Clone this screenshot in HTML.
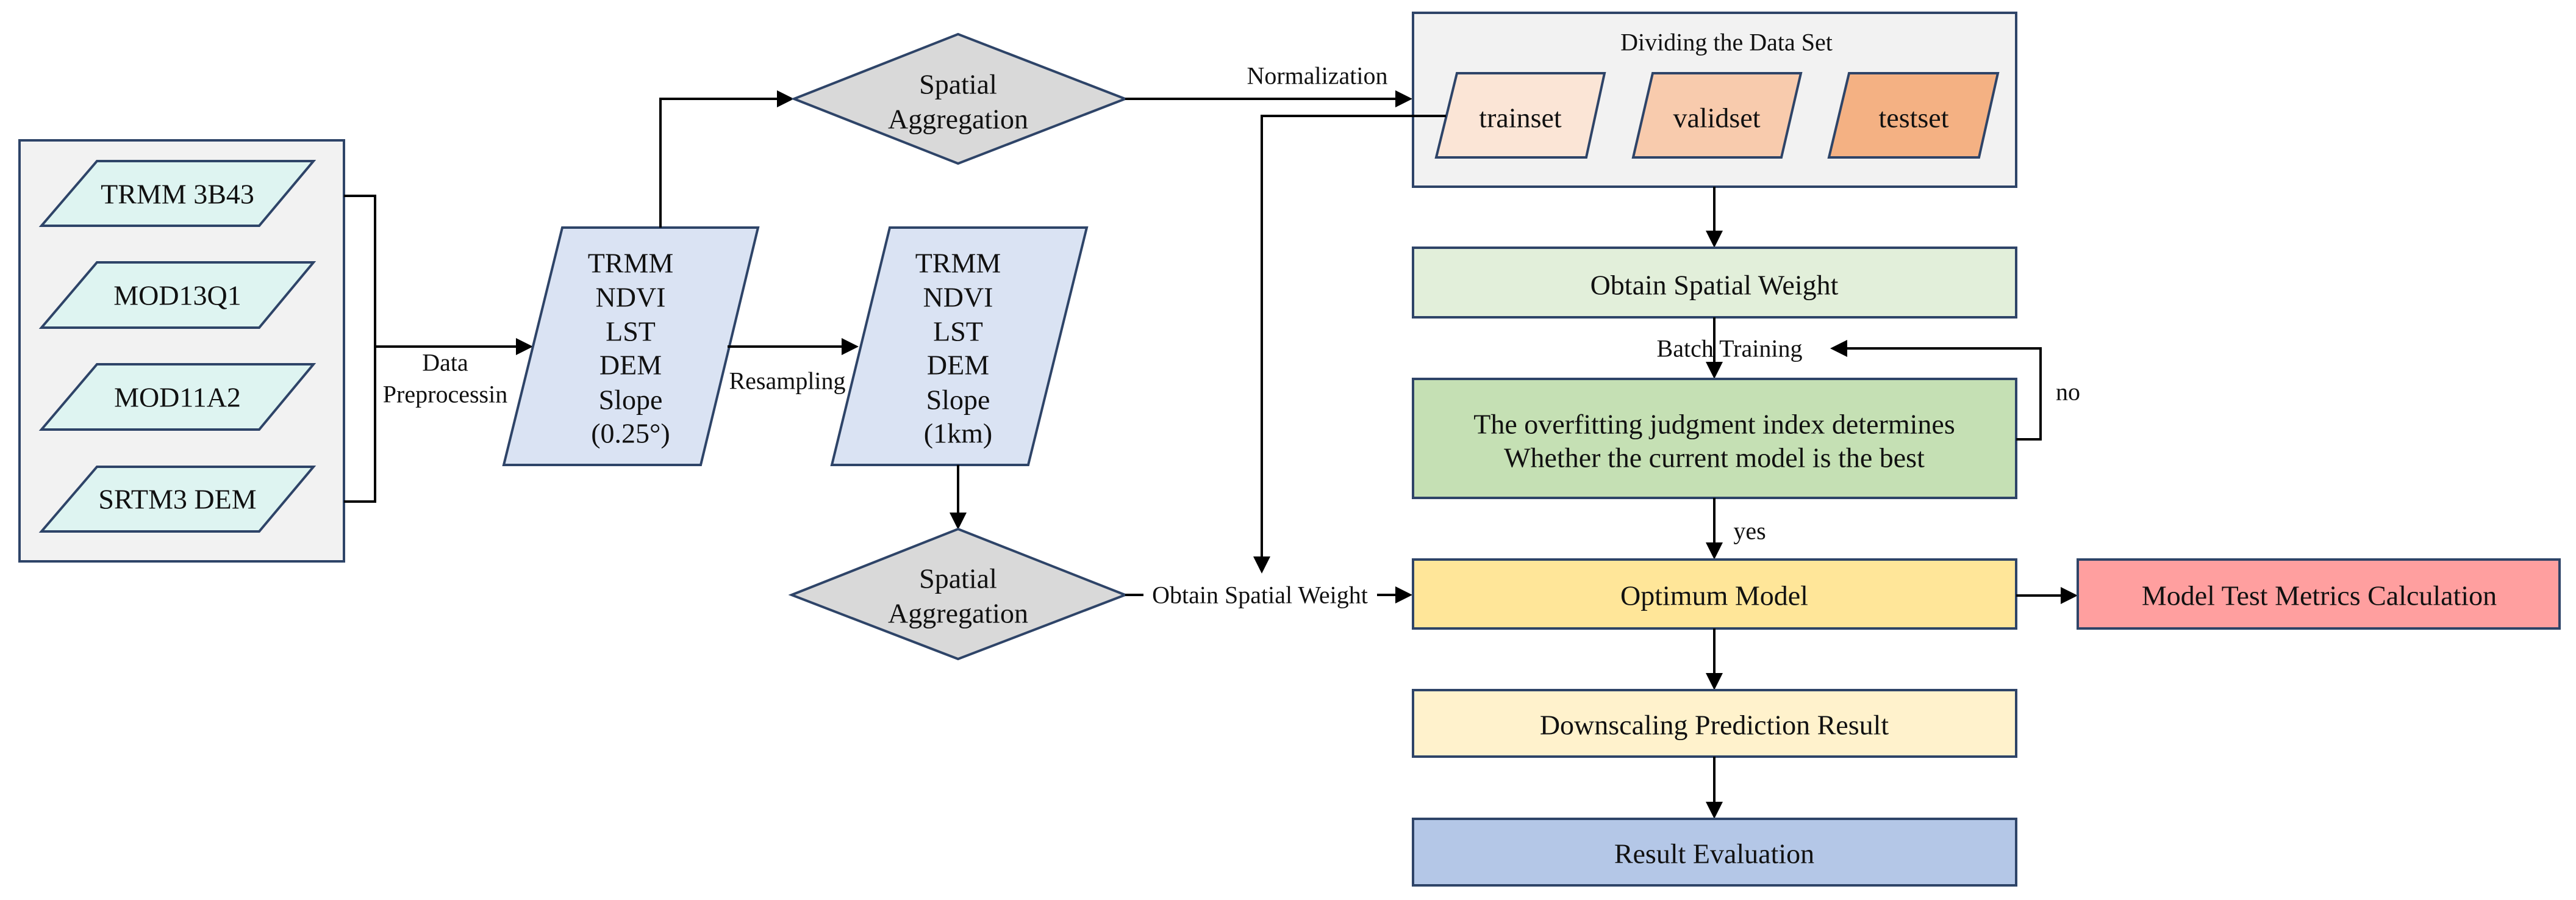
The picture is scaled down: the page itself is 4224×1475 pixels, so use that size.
<!DOCTYPE html>
<html><head><meta charset="utf-8"><style>
html,body{margin:0;padding:0;background:#fff;}
svg{display:block;}
svg text{font-family:"Liberation Serif","Times New Roman",serif;fill:#111;}
.b{font-size:46px;text-anchor:middle;dominant-baseline:central;}
.s{font-size:40px;text-anchor:middle;dominant-baseline:central;}
.bx{stroke:#2e4468;stroke-width:4;}
.ln{stroke:#000;stroke-width:4;fill:none;}
</style></head><body>
<svg width="4224" height="1475" viewBox="0 0 4224 1475" xmlns="http://www.w3.org/2000/svg" font-family="Liberation Serif, serif">
<defs><marker id="a" markerWidth="7" markerHeight="7" refX="6" refY="3.5" orient="auto" markerUnits="strokeWidth"><path d="M0,0 L7,3.5 L0,7 Z" fill="#000"/></marker></defs>

<!-- left panel -->
<rect x="32" y="230" width="532" height="690" fill="#f2f2f2" class="bx"/>
<polygon points="159,264 514,264 425,370 68,370" fill="#def4f1" class="bx"/>
<text x="291" y="318" class="b">TRMM 3B43</text>
<polygon points="159,430 514,430 425,537 68,537" fill="#def4f1" class="bx"/>
<text x="291" y="484" class="b">MOD13Q1</text>
<polygon points="159,597 514,597 425,704 68,704" fill="#def4f1" class="bx"/>
<text x="291" y="651" class="b">MOD11A2</text>
<polygon points="159,765 514,765 425,871 68,871" fill="#def4f1" class="bx"/>
<text x="291" y="818" class="b">SRTM3 DEM</text>

<path d="M564,321 H615 V822 H564" class="ln"/>
<line x1="615" y1="568" x2="870" y2="568" class="ln" marker-end="url(#a)"/>
<text x="730" y="594" class="s">Data</text>
<text x="730" y="646" class="s">Preprocessin</text>

<!-- param1 -->
<polygon points="922,373 1243,373 1149,762 826,762" fill="#dae3f3" class="bx"/>
<text x="1034" y="431" class="b">TRMM</text>
<text x="1034" y="487" class="b">NDVI</text>
<text x="1034" y="543" class="b">LST</text>
<text x="1034" y="598" class="b">DEM</text>
<text x="1034" y="655" class="b">Slope</text>
<text x="1034" y="710" class="b">(0.25°)</text>

<line x1="1193" y1="568" x2="1404" y2="568" class="ln" marker-end="url(#a)"/>
<text x="1291" y="624" class="s">Resampling</text>

<!-- param2 -->
<polygon points="1459,373 1782,373 1686,762 1364,762" fill="#dae3f3" class="bx"/>
<text x="1571" y="431" class="b">TRMM</text>
<text x="1571" y="487" class="b">NDVI</text>
<text x="1571" y="543" class="b">LST</text>
<text x="1571" y="598" class="b">DEM</text>
<text x="1571" y="655" class="b">Slope</text>
<text x="1571" y="710" class="b">(1km)</text>

<!-- diamond top -->
<path d="M1083,373 V162 H1298" class="ln" marker-end="url(#a)"/>
<polygon points="1302,162 1571,56 1845,162 1571,268" fill="#d9d9d9" class="bx"/>
<text x="1571" y="138" class="b">Spatial</text>
<text x="1571" y="195" class="b">Aggregation</text>
<line x1="1845" y1="162" x2="2312" y2="162" class="ln" marker-end="url(#a)"/>
<text x="2160" y="124" class="s">Normalization</text>

<!-- diamond bottom -->
<line x1="1571" y1="762" x2="1571" y2="864" class="ln" marker-end="url(#a)"/>
<polygon points="1298,975 1571,867 1845,975 1571,1080" fill="#d9d9d9" class="bx"/>
<text x="1571" y="948" class="b">Spatial</text>
<text x="1571" y="1005" class="b">Aggregation</text>
<line x1="1845" y1="975" x2="1875" y2="975" class="ln"/>
<text x="2066" y="975" class="s">Obtain Spatial Weight</text>
<line x1="2258" y1="975" x2="2312" y2="975" class="ln" marker-end="url(#a)"/>

<!-- dividing panel -->
<rect x="2317" y="21" width="989" height="285" fill="#f2f2f2" class="bx"/>
<text x="2831" y="69" class="s">Dividing the Data Set</text>
<polygon points="2389,120 2631,120 2601,258 2355,258" fill="#fbe5d6" class="bx"/>
<text x="2493" y="193" class="b">trainset</text>
<polygon points="2710,120 2953,120 2921,258 2678,258" fill="#f8cbad" class="bx"/>
<text x="2815" y="193" class="b">validset</text>
<polygon points="3032,120 3276,120 3245,258 2999,258" fill="#f4b183" class="bx"/>
<text x="3138" y="193" class="b">testset</text>

<path d="M2371,190 H2069 V936" class="ln" marker-end="url(#a)"/>

<!-- column -->
<line x1="2811" y1="306" x2="2811" y2="402" class="ln" marker-end="url(#a)"/>
<rect x="2317" y="406" width="989" height="114" fill="#e2efda" class="bx"/>
<text x="2811" y="467" class="b">Obtain Spatial Weight</text>
<line x1="2811" y1="520" x2="2811" y2="617" class="ln" marker-end="url(#a)"/>
<text x="2836" y="571" class="s">Batch Training</text>
<rect x="2317" y="621" width="989" height="195" fill="#c5e0b4" class="bx"/>
<text x="2811" y="695" class="b">The overfitting judgment index determines</text>
<text x="2811" y="750" class="b">Whether the current model is the best</text>
<path d="M3306,720 H3346 V571 H3005" class="ln" marker-end="url(#a)"/>
<text x="3391" y="642" class="s">no</text>
<line x1="2811" y1="816" x2="2811" y2="913" class="ln" marker-end="url(#a)"/>
<text x="2869" y="870" class="s">yes</text>
<rect x="2317" y="917" width="989" height="113" fill="#ffe699" class="bx"/>
<text x="2811" y="976" class="b">Optimum Model</text>
<line x1="3306" y1="976" x2="3403" y2="976" class="ln" marker-end="url(#a)"/>
<rect x="3407" y="917" width="790" height="113" fill="#ff9f9f" class="bx"/>
<text x="3803" y="976" class="b">Model Test Metrics Calculation</text>
<line x1="2811" y1="1030" x2="2811" y2="1127" class="ln" marker-end="url(#a)"/>
<rect x="2317" y="1131" width="989" height="109" fill="#fff2cc" class="bx"/>
<text x="2811" y="1188" class="b">Downscaling Prediction Result</text>
<line x1="2811" y1="1240" x2="2811" y2="1338" class="ln" marker-end="url(#a)"/>
<rect x="2317" y="1342" width="989" height="109" fill="#b4c7e7" class="bx"/>
<text x="2811" y="1399" class="b">Result Evaluation</text>
</svg>
</body></html>
